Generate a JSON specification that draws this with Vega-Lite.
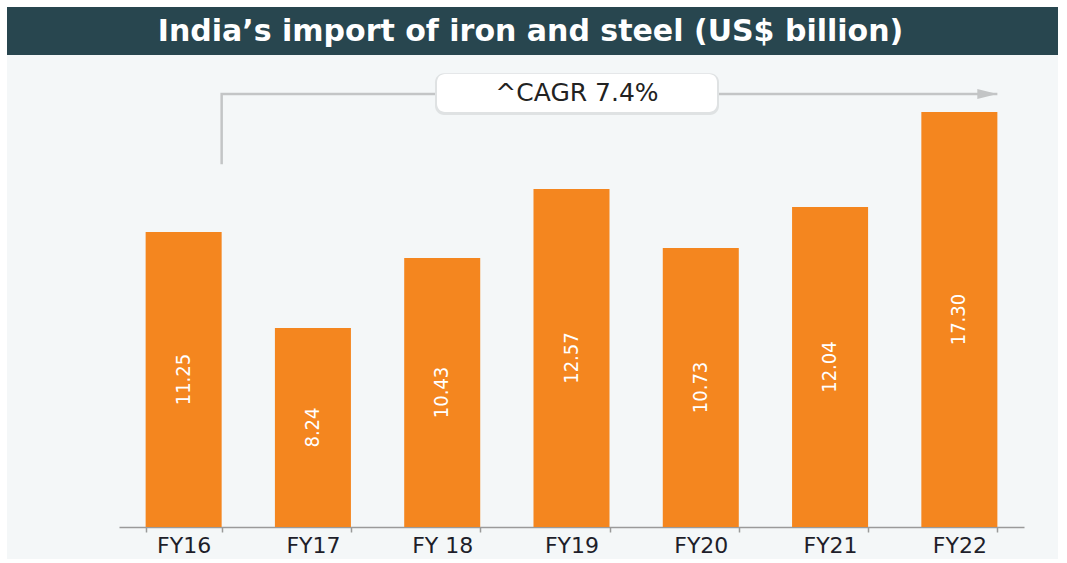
{
  "$schema": "https://vega.github.io/schema/vega-lite/v6.json",
  "background": "#ffffff",
  "padding": {"left": 7, "top": 7, "right": 9, "bottom": 4},
  "spacing": 0,
  "config": {"view": {"stroke": null}, "concat": {"spacing": 0}},
  "datasets": {
    "imports": [
      {"fy": "FY16", "value": 11.25, "drawn": 12.29},
      {"fy": "FY17", "value": 8.24, "drawn": 8.29},
      {"fy": "FY 18", "value": 10.43, "drawn": 11.21},
      {"fy": "FY19", "value": 12.57, "drawn": 14.08},
      {"fy": "FY20", "value": 10.73, "drawn": 11.63},
      {"fy": "FY21", "value": 12.04, "drawn": 13.33},
      {"fy": "FY22", "value": 17.30, "drawn": 17.29}
    ],
    "cagrPath": [
      {"fy": "FY16", "y": 15.12, "o": 1},
      {"fy": "FY16", "y": 18.04, "o": 2},
      {"fy": "FY22", "y": 18.04, "o": 3}
    ],
    "cagrLabel": [
      {"fy": "FY19", "label": "^CAGR 7.4%"}
    ]
  },
  "vconcat": [
    {
      "width": 1051,
      "height": 48,
      "view": {"fill": "#28464f", "stroke": null},
      "data": {"values": [{"title": "India’s import of iron and steel (US$ billion)"}]},
      "mark": {"type": "text", "font": "DejaVu Sans", "fontWeight": "bold", "fontSize": 30, "color": "#ffffff", "baseline": "middle", "align": "center", "dy": 1, "dx": -2},
      "encoding": {"text": {"field": "title"}}
    },
    {
      "width": 1051,
      "height": 504,
      "view": {"fill": "#f4f7f8", "stroke": null},
      "resolve": {"scale": {"y": "independent"}},
      "layer": [
        {
          "data": {"name": "imports"},
          "mark": {"type": "bar", "color": "#f4861f"},
          "encoding": {
            "x": {
              "field": "fy", "type": "nominal",
              "scale": {"domain": ["FY16", "FY17", "FY 18", "FY19", "FY20", "FY21", "FY22"], "range": [112, 1017], "paddingInner": 0.412, "paddingOuter": 0.206},
              "axis": {"title": null, "labelAngle": 0, "tickBand": "extent", "offset": -32, "domainColor": "#9a9a9a", "domainWidth": 1.5, "tickColor": "#9a9a9a", "tickSize": 5, "tickWidth": 1.5, "labelFont": "DejaVu Sans", "labelFontSize": 22, "labelColor": "#1e1e2a", "labelPadding": 3, "grid": false}
            },
            "y": {"field": "drawn", "type": "quantitative", "scale": {"domain": [-1.333, 19.667], "nice": false, "zero": false}, "axis": null},
            "y2": {"datum": 0}
          }
        },
        {
          "data": {"name": "imports"},
          "mark": {"type": "text", "angle": 270, "color": "#ffffff", "font": "'DejaVu Sans Condensed', Roboto, sans-serif", "fontSize": 20, "baseline": "middle", "align": "center"},
          "encoding": {
            "x": {"field": "fy", "type": "nominal"},
            "y": {"field": "drawn", "type": "quantitative", "scale": {"domain": [-2.667, 39.333], "nice": false, "zero": false}, "axis": null},
            "text": {"field": "value", "type": "quantitative", "format": ".2f"}
          }
        },
        {
          "data": {"name": "cagrPath"},
          "mark": {"type": "line", "color": "#c3c5c6", "strokeWidth": 2.5, "strokeJoin": "miter"},
          "encoding": {
            "x": {"field": "fy", "type": "nominal", "bandPosition": 1},
            "y": {"field": "y", "type": "quantitative", "scale": {"domain": [-1.333, 19.667], "nice": false, "zero": false}, "axis": null},
            "order": {"field": "o", "type": "quantitative"}
          }
        },
        {
          "data": {"name": "cagrLabel"},
          "mark": {"type": "point", "shape": "M-1,-0.5L1,0L-1,0.5Z", "filled": true, "size": 400, "color": "#c3c5c6", "opacity": 1},
          "encoding": {
            "x": {"datum": "FY22", "type": "nominal", "bandPosition": 0.868},
            "y": {"datum": 18.04, "type": "quantitative", "scale": {"domain": [-1.333, 19.667], "nice": false, "zero": false}, "axis": null}
          }
        },
        {
          "data": {"name": "cagrLabel"},
          "mark": {"type": "bar", "width": 284, "color": "#dfe2e3", "cornerRadius": 9, "xOffset": 5.5, "yOffset": 1},
          "encoding": {
            "x": {"field": "fy", "type": "nominal"},
            "y": {"datum": 18.95, "type": "quantitative", "scale": {"domain": [-1.333, 19.667], "nice": false, "zero": false}, "axis": null},
            "y2": {"datum": 17.17}
          }
        },
        {
          "data": {"name": "cagrLabel"},
          "mark": {"type": "bar", "width": 280, "color": "#ffffff", "cornerRadius": 8, "xOffset": 5.5},
          "encoding": {
            "x": {"field": "fy", "type": "nominal"},
            "y": {"datum": 18.875, "type": "quantitative", "scale": {"domain": [-1.333, 19.667], "nice": false, "zero": false}, "axis": null},
            "y2": {"datum": 17.29}
          }
        },
        {
          "data": {"name": "cagrLabel"},
          "mark": {"type": "text", "font": "DejaVu Sans", "fontSize": 25, "color": "#222222", "xOffset": 5.5, "baseline": "middle", "align": "center"},
          "encoding": {
            "x": {"field": "fy", "type": "nominal"},
            "y": {"datum": 18.08, "type": "quantitative", "scale": {"domain": [-1.333, 19.667], "nice": false, "zero": false}, "axis": null},
            "text": {"field": "label"}
          }
        }
      ]
    }
  ]
}
